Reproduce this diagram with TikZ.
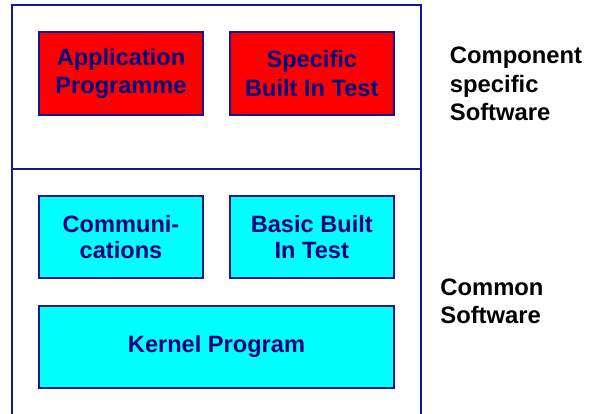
\documentclass[tikz,border=0pt]{standalone}
\usepackage{fontspec}
\setmainfont{Liberation Sans}
\definecolor{navytext}{RGB}{0,0,128}
\definecolor{navyline}{RGB}{24,24,140}
\definecolor{boxred}{RGB}{255,0,0}
\definecolor{boxcyan}{RGB}{0,255,255}
\tikzset{
  frameline/.style={draw=navyline, line width=1.6pt},
  swbox/.style={draw=navyline, line width=1.8pt, inner sep=0pt, align=center,
    text=navytext, font=\fontsize{23.6}{28.5}\selectfont\bfseries},
  redbox/.style={swbox, fill=boxred, minimum width=164pt, minimum height=83pt},
  cyanbox/.style={swbox, fill=boxcyan, minimum width=164pt, minimum height=82pt,
    font=\fontsize{23.6}{26}\selectfont\bfseries},
  sidelabel/.style={anchor=north west, inner sep=0pt, align=left, text=black,
    font=\fontsize{23.8}{28.4}\selectfont\bfseries}
}
\begin{document}
\begin{tikzpicture}[x=1pt,y=-1pt]
\useasboundingbox (0,0) rectangle (595,414);
% frame
\coordinate (fbl) at (11.7,414);
\coordinate (ftl) at (11.7,5);
\coordinate (ftr) at (421,5);
\coordinate (fbr) at (421,414);
\coordinate (dl) at (11.7,169);
\coordinate (dr) at (421,169);
\draw[frameline] (fbl) -- (ftl) -- (ftr) -- (fbr);
\draw[frameline] (dl) -- (dr);
% boxes
\node[redbox] (app) at (121,73.5) {Application\\Programme};
\node[redbox] (sbit) at (311.8,73.5) {Specific\\Built In Test};
\node[cyanbox] (comm) at (121,237) {Communi-\\cations};
\node[cyanbox] (bbit) at (311.8,237) {Basic Built\\In Test};
\node[swbox, fill=boxcyan, minimum width=355pt, minimum height=82.3pt] (kern) at (216.5,346.9) {Kernel Program};
% side labels
\node[sidelabel] (cs) at (449.7,46.8) {Component\\specific\\Software};
\node[sidelabel] (cm) at (440.2,278.6) {Common\\Software};
\end{tikzpicture}
\end{document}
